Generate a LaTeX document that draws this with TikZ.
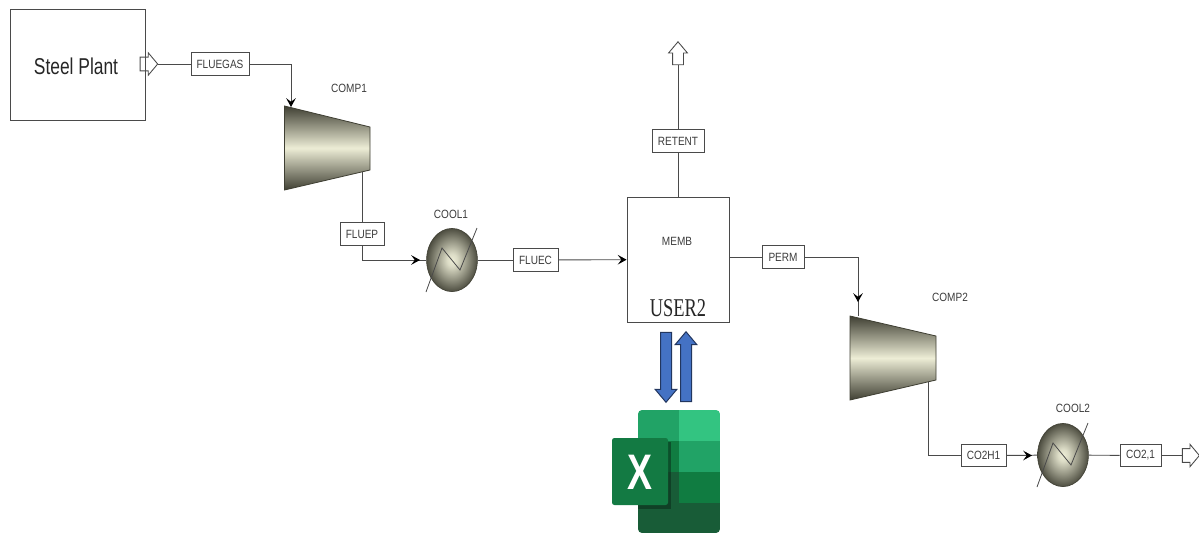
\documentclass[tikz,border=0pt]{standalone}
\usepackage{fontspec}
\setmainfont{Liberation Sans}
\newfontfamily\serifname{Liberation Serif}
\usetikzlibrary{arrows.meta}
\usetikzlibrary{shapes.geometric, shapes.arrows}

\definecolor{linegrey}{HTML}{4A4A4A}
\definecolor{labelgrey}{HTML}{3C3C3C}
\definecolor{machinedark}{HTML}{3F3F33}
\definecolor{machinelight}{HTML}{EDEDD6}
\definecolor{blueflow}{HTML}{4472C4}
\definecolor{blueedge}{HTML}{22365F}
\definecolor{xlA}{HTML}{21A366}
\definecolor{xlB}{HTML}{33C481}
\definecolor{xlC}{HTML}{107C41}
\definecolor{xlD}{HTML}{185C37}
\definecolor{xlE}{HTML}{137A43}

\newcommand{\narrowlabel}[1]{\scalebox{.84}[1]{#1}}

\pgfdeclareradialshading{coolershade}{\pgfpoint{0bp}{0bp}}{
	color(0bp)=(machinelight);
	color(5bp)=(machinelight!90!machinedark);
	color(15bp)=(machinelight!50!machinedark);
	color(27bp)=(machinedark);
	color(75bp)=(machinedark)
	}

\tikzset{
	flowline/.style={linegrey, line width=.22mm},
	tipline/.style={flowline, -{Stealth[length=2.2mm,width=2.4mm,inset=.9mm,color=black]}},
	streambox/.style={draw=linegrey, line width=.22mm, fill=white, text=labelgrey, minimum height=5.6mm, inner sep=0pt, font=\fontsize{8.5pt}{10pt}\selectfont},
	blocklabel/.style={text=labelgrey, inner sep=0pt, font=\fontsize{8.5pt}{10pt}\selectfont},
	portarrow/.style={single arrow, draw=linegrey, line width=.22mm, inner xsep=0pt, inner ysep=1.6mm, single arrow head extend=1.1mm, single arrow tip angle=100, minimum height=4.4mm},
	bluearrow/.style={single arrow, draw=blueedge, line width=.25mm, fill=blueflow, inner ysep=0pt, inner xsep=1.25mm, single arrow head extend=1.35mm, single arrow tip angle=80, minimum height=17.5mm},
	coolerbody/.style={ellipse, minimum width=12.7mm, minimum height=15.8mm, inner sep=0pt, shading=coolershade, draw=machinedark, line width=.15mm},
	compshade/.style={top color=machinedark, bottom color=machinedark, middle color=machinelight, draw=machinedark, line width=.2mm},
	coilline/.style={linegrey, line width=.2mm}
}

\begin{document}
\begin{tikzpicture}[x=.25mm,y=-.25mm]
	\useasboundingbox (0,0) rectangle (1199,533);

	%steel plant
	\node[draw=linegrey, line width=.22mm, minimum width=33.75mm, minimum height=27.75mm, inner sep=0pt] (plant) at (77.5,64.5) {};
	\node[inner sep=0pt, text=black!85, font=\fontsize{16.3pt}{18pt}\selectfont] (plantname) at (76,66) {\scalebox{.76}[1]{Steel Plant}};
	\node[portarrow] (plantout) at (146,64) {};

	%compressors
	\shade[compshade] (284.5,106)--(370,127)--(370,170)--(284.5,190)--cycle;
	\shade[compshade] (850,316)--(936,336)--(936,380)--(850,400)--cycle;
	\coordinate (comp1in) at (291,107);
	\coordinate (comp1out) at (362,172);
	\coordinate (comp2in) at (858,316);
	\coordinate (comp2mid) at (858,302);
	\coordinate (comp2out) at (928,382);
	\node[blocklabel] (comp1name) at (349,88) {\narrowlabel{COMP1}};
	\node[blocklabel] (comp2name) at (950,297) {\narrowlabel{COMP2}};

	%coolers
	\node[coolerbody] (cool1) at (452,260) {};
	\node[coolerbody] (cool2) at (1063,455) {};
	\foreach \c in {cool1,cool2}
		\draw[coilline] (\c.center) ++(-26,32) -- ++(16,-44) -- ++(18,22) -- ++(17,-42);
	\node[blocklabel] (cool1name) at (451,214) {\narrowlabel{COOL1}};
	\node[blocklabel] (cool2name) at (1073,408) {\narrowlabel{COOL2}};
	\coordinate (cool1in) at (420,260);
	\coordinate (cool2in) at (1032,455.5);

	%membrane
	\node[draw=linegrey, line width=.22mm, minimum width=25.5mm, minimum height=31.25mm, inner sep=0pt] (memb) at (678,259.5) {};
	\node[blocklabel] (membname) at (677,241) {\narrowlabel{MEMB}};
	\node[inner sep=0pt, text=black!85, font=\serifname\fontsize{18.2pt}{20pt}\selectfont] (username) at (678,308) {\scalebox{.72}[1]{USER2}};

	%stream boxes
	\node[streambox, minimum width=14.5mm] (fluegas) at (220,64) {\narrowlabel{FLUEGAS}};
	\node[streambox, minimum width=11mm] (fluep) at (362,234) {\narrowlabel{FLUEP}};
	\node[streambox, minimum width=11.25mm] (fluec) at (535.5,260) {\narrowlabel{FLUEC}};
	\node[streambox, minimum width=13mm] (retent) at (678,141) {\narrowlabel{RETENT}};
	\node[streambox, minimum width=10.5mm] (perm) at (783,257) {\narrowlabel{PERM}};
	\node[streambox, minimum width=11.25mm] (co2h1) at (983.5,455.5) {\narrowlabel{CO2H1}};
	\node[streambox, minimum width=10.25mm] (co2one) at (1140.5,455.5) {\narrowlabel{CO2,1}};

	%outlets
	\node[portarrow, shape border rotate=90, inner ysep=0pt, inner xsep=1.25mm, single arrow head extend=1mm, single arrow tip angle=80, minimum height=5.75mm] (retentout) at (678,56.5) {};
	\node[portarrow, minimum height=4.25mm] (co2out) at (1188,455.5) {};

	%streams
	\draw[flowline] (plantout.tip)--(fluegas);
	\draw[tipline] (fluegas.east)-|(comp1in);
	\draw[flowline] (comp1out)--(fluep);
	\draw[flowline] (fluep.south)|-(cool1);
	\draw[tipline] (fluep.south)|-(cool1in);
	\draw[flowline] (cool1)--(fluec);
	\draw[tipline] (fluec)--(memb);
	\draw[flowline] (memb.north)--(retent);
	\draw[flowline] (retent)--(retentout.tail);
	\draw[flowline] (memb.east |- perm)--(perm);
	\draw[flowline] (perm.east)-|(comp2in);
	\draw[tipline] (perm.east)-|(comp2mid);
	\draw[flowline] (comp2out)|-(co2h1);
	\draw[flowline] (co2h1)--(cool2);
	\draw[tipline] (co2h1)--(cool2in);
	\draw[flowline] (cool2)--(co2one);
	\draw[flowline] (co2one)--(co2out.tail);

	%exchange arrows
	\node[bluearrow, shape border rotate=270] (sendarrow) at (666,364) {};
	\node[bluearrow, shape border rotate=90] (backarrow) at (686,370) {};

	%excel sheet
	\begin{scope}
		\clip[rounded corners=1mm] (638,410) rectangle (720,533);
		\fill[xlA] (638,410) rectangle (679,441);
		\fill[xlB] (679,410) rectangle (720,441);
		\fill[xlC] (638,441) rectangle (679,472);
		\fill[xlA] (679,441) rectangle (720,472);
		\fill[xlD] (638,472) rectangle (679,503);
		\fill[xlC] (679,472) rectangle (720,503);
		\fill[xlD] (638,503) rectangle (720,533);
		\fill[black!60!xlD, opacity=.5] (638,442) rectangle (671,509);
	\end{scope}
	\node[fill=xlE, rounded corners=.6mm, minimum width=14mm, minimum height=16.75mm, inner sep=0pt] (excelbadge) at (640,471.5) {};
	\node[text=white, inner sep=0pt, font=\bfseries\fontsize{35.5pt}{36pt}\selectfont] (excelx) at (640,472) {\scalebox{.75}[1]{X}};
\end{tikzpicture}
\end{document}
